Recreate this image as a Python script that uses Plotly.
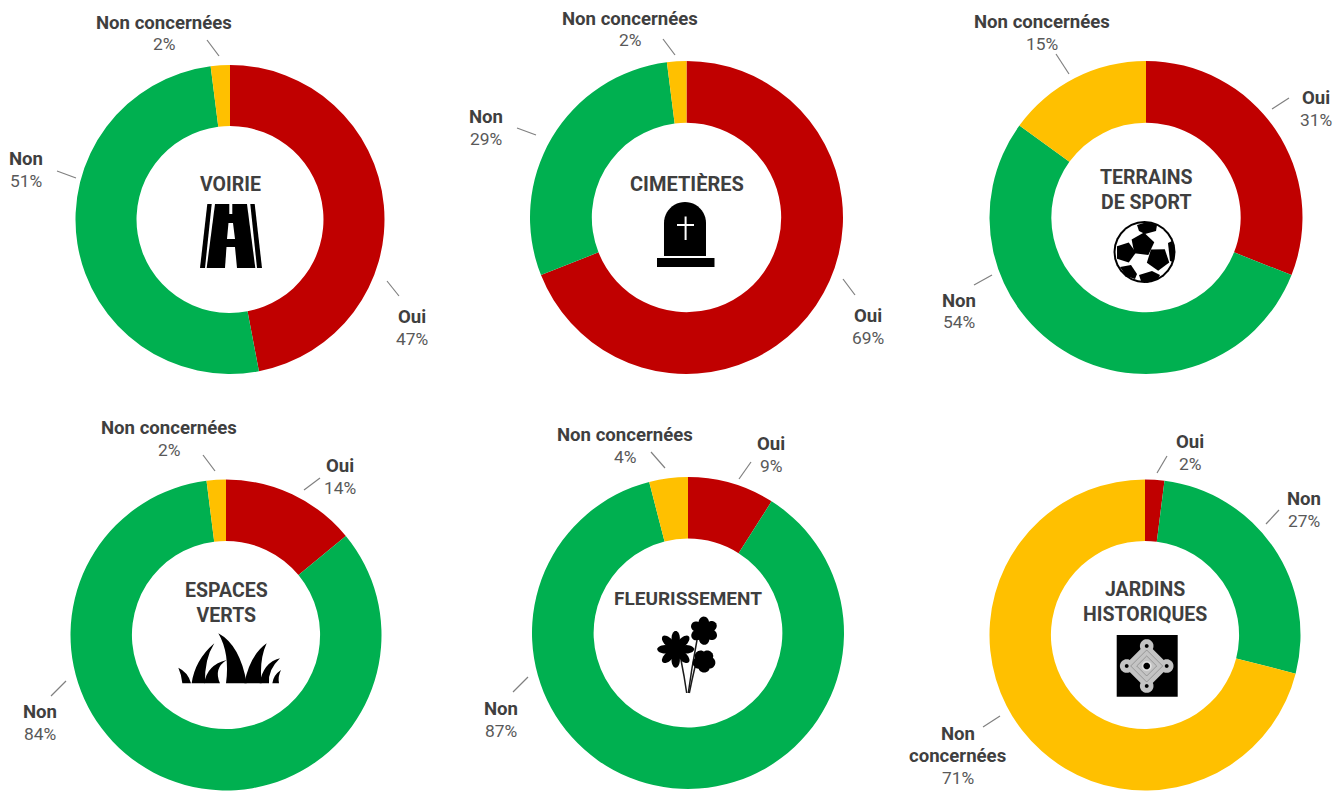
import math
import plotly.graph_objects as go

W, H = 1342, 791

# Survey answers, in percent, for each municipal area
categories = ["Oui", "Non", "Non concernées"]
voirie = [47, 51, 2]
cimetieres = [69, 29, 2]
terrains = [31, 54, 15]
espaces_verts = [14, 84, 2]
fleurissement = [9, 87, 4]
jardins = [2, 27, 71]
titles = ["VOIRIE", "CIMETIÈRES", "TERRAINS<br>DE SPORT",
          "ESPACES<br>VERTS", "FLEURISSEMENT", "JARDINS<br>HISTORIQUES"]
title_sizes = [19.5, 20, 19.5, 19.5, 19, 19.5]
series = [voirie, cimetieres, terrains, espaces_verts, fleurissement, jardins]

RED, GREEN, YELLOW = "#C00000", "#00B050", "#FFC000"
colors = [RED, GREEN, YELLOW]
INK, INK_SOFT, RULE = "#3F3F3F", "#595959", "#808080"
FONT = "Roboto"
LINE_STEP = 21.7

# Doughnut placement in pixels: centre x, centre y, outer radius
placement = [(230, 219.5, 154.5), (686.5, 217.5, 156.5), (1146, 217.5, 156.5),
             (226, 635, 155.5), (688, 633, 156), (1145, 635, 155.5)]
title_y = [184, 184, 190, 603, 598, 602]

# For each doughnut, per category: label centre and the leader line beside it
label_pos = [
    [(412, 328), (26, 170), (164, 33.5)],
    [(868, 327), (486, 128), (630, 29.5)],
    [(1316, 109), (959, 311.5), (1042, 33)],
    [(340, 477), (40, 723), (169, 439)],
    [(771, 455), (501, 720), (625, 446)],
    [(1190, 453), (1304, 510), (958, 756)],
]
leaders = [
    [(387, 281, 399, 296), (57, 171, 76, 178), (207, 40, 219, 56)],
    [(843, 279, 855, 295), (517, 128, 536, 135), (663, 39, 675, 55)],
    [(1272, 109, 1289, 98), (974, 285, 992, 275), (1056, 54, 1069, 74)],
    [(304, 490, 320, 478), (51, 696, 66, 681), (203, 455, 215, 471)],
    [(739, 479, 751, 462), (513, 692, 528, 677), (651, 452, 665, 468)],
    [(1157, 473, 1167, 456), (1266, 524, 1279, 510), (983, 727, 1000, 716)],
]


def px(x):
    return x / W


def py(y):
    return 1 - y / H


def pt(x, y):
    return f"{px(x):.5f},{py(y):.5f}"


def poly(points):
    return "M" + " L".join(pt(x, y) for x, y in points) + " Z"


def fill(path, color="black"):
    return dict(type="path", xref="paper", yref="paper", path=path,
                fillcolor=color, line=dict(width=0), layer="above")


def ellipse_pts(cx, cy, a, b=None, rot=0.0, n=28):
    b = a if b is None else b
    c, s = math.cos(rot), math.sin(rot)
    pts = []
    for i in range(n):
        t = 2 * math.pi * i / n
        x, y = a * math.cos(t), b * math.sin(t)
        pts.append((cx + x * c - y * s, cy + x * s + y * c))
    return pts


def disc(cx, cy, r, color="black"):
    return fill(poly(ellipse_pts(cx, cy, r)), color)


def stroke(pts, color="black", width=1.0):
    path = "M" + " L".join(pt(x, y) for x, y in pts)
    return dict(type="path", xref="paper", yref="paper", path=path,
                line=dict(color=color, width=width), layer="above")


def road():
    return [
        fill(poly([(207.3, 204), (211.7, 204), (205, 268), (200, 268)])),
        fill(poly([(250.3, 204), (254.7, 204), (262, 268), (257, 268)])),
        fill(poly([(215, 204), (247, 204), (255.3, 268), (206.7, 268)])),
        fill(poly([(229.3, 204), (232.3, 204), (232.3, 214), (229.3, 214)]), "white"),
        fill(poly([(228.5, 223), (233, 223), (235, 239), (227, 239)]), "white"),
        fill(poly([(226.5, 247), (235, 247), (237, 268), (225, 268)]), "white"),
    ]


def tomb():
    arch = [(664, 256)]
    for i in range(25):
        t = math.pi * (1 - i / 24)
        arch.append((685 + 21 * math.cos(t), 223 - 21 * math.sin(t)))
    arch.append((706, 256))
    return [
        fill(poly(arch)),
        fill(poly([(657, 258), (714.5, 258), (714.5, 267), (657, 267)])),
        fill(poly([(684.6, 216.5), (686.6, 216.5), (686.6, 240), (684.6, 240)]), "white"),
        fill(poly([(677, 224), (694, 224), (694, 226), (677, 226)]), "white"),
    ]


def pentagon(cx, cy, r, rot):
    return [(cx + r * math.cos(rot + i * 2 * math.pi / 5),
             cy + r * math.sin(rot + i * 2 * math.pi / 5)) for i in range(5)]


def ball():
    cx, cy, r = 1144.5, 252, 31
    out = [disc(cx, cy, r), disc(cx, cy, r - 2, "white")]
    out.append(fill(poly(pentagon(1142.5, 244.5, 12, -1.45))))
    out.append(fill(poly(pentagon(1125.5, 252.5, 10.5, 0.0))))
    out.append(fill(poly(pentagon(1158, 259, 11.8, 0.3))))
    # Patches cut off by the ball's rim
    out.append(fill(poly([(1137, 225), (1147, 222), (1157, 225), (1156, 231), (1145, 234), (1139, 231)])))
    out.append(fill(poly([(1120, 267), (1131, 265), (1137, 274), (1135, 279), (1126, 276)])))
    out.append(fill(poly([(1139, 275), (1152, 271), (1160, 275), (1158, 279), (1147, 283), (1141, 281)])))
    out.append(fill(poly([(1168, 243), (1172, 241), (1175, 252), (1173, 262), (1170, 261)])))
    return out


# Grass blades: left base, left control, tip, right control, right base
GRASS_ORIGIN = (165, 575)
GRASS_BLADES = [
    ((52, 325), (50, 300), (40, 278), (70, 292), (78, 325)),
    ((80, 325), (90, 255), (148, 205), (118, 252), (120, 325)),
    ((118, 325), (125, 270), (185, 255), (145, 280), (165, 325)),
    ((183, 325), (195, 235), (160, 175), (225, 210), (245, 325)),
    ((238, 325), (255, 240), (305, 205), (282, 255), (290, 325)),
    ((284, 325), (295, 262), (345, 250), (308, 285), (312, 325)),
    ((322, 325), (325, 300), (348, 285), (338, 305), (342, 325)),
]


def grass():
    ox, oy = GRASS_ORIGIN
    out = []
    for b in GRASS_BLADES:
        (a, c1, tip, c2, e) = [(ox + x / 3, oy + y / 3) for x, y in b]
        out.append(fill(f"M{pt(*a)} Q{pt(*c1)} {pt(*tip)} Q{pt(*c2)} {pt(*e)} Z"))
    return out


def flower(cx, cy, petals, length, width, offset=0.0):
    out = []
    for i in range(petals):
        t = offset + 2 * math.pi * i / petals
        d = length * 0.62
        out.append(fill(poly(ellipse_pts(cx + d * math.cos(t), cy + d * math.sin(t),
                                         length * 0.45, width, rot=t))))
    out.append(disc(cx, cy, length * 0.5))
    return out


def flowers():
    out = []
    out.append(stroke([(681, 660), (684, 676), (686.7, 693)], "#1A1A1A", 1.5))
    out.append(stroke([(697, 640), (692, 668), (688.3, 693)], "#1A1A1A", 1.5))
    out.append(stroke([(695, 667), (692, 680), (689.3, 693)], "#1A1A1A", 1.5))
    out += flower(675.7, 649.3, 8, 17.2, 4.2, 0.0)
    out += flower(704, 630.7, 6, 13.2, 5.2, 0.5)
    out += flower(704, 661, 5, 10.8, 5.6, 0.3)
    return out


def maze():
    cx, cy = 1146.7, 666
    out = [fill(poly([(1116.7, 635), (1177.7, 635), (1177.7, 696.7), (1116.7, 696.7)]))]
    grey = "#C4C4C4"
    out.append(fill(poly([(cx, cy - 23), (cx + 23, cy), (cx, cy + 23), (cx - 23, cy)]), grey))
    lobes = [(0, -20), (20, 0), (0, 20), (-20, 0)]
    for dx, dy in lobes:
        out.append(disc(cx + dx, cy + dy, 6.8, grey))
    # Concentric paths of the garden plan
    for d in (16, 10):
        ring = [(cx, cy - d), (cx + d, cy), (cx, cy + d), (cx - d, cy), (cx, cy - d)]
        out.append(stroke(ring, "#777777", 0.6))
    for dx, dy in lobes:
        out.append(disc(cx + dx, cy + dy, 1.9, "black"))
    out.append(disc(cx, cy, 5, "#E0E0E0"))
    out.append(disc(cx, cy, 3.3, "black"))
    return out


fig = go.Figure()
shapes, annotations = [], []


def text_line(x, y, text, size, color):
    annotations.append(dict(
        x=px(x), y=py(y), xref="paper", yref="paper", text=text, showarrow=False,
        xanchor="center", yanchor="middle", align="center",
        font=dict(family=FONT, size=size, color=color),
    ))


for idx, (values, (cx, cy, r)) in enumerate(zip(series, placement)):
    fig.add_trace(go.Pie(
        labels=categories, values=values, sort=False, direction="clockwise",
        rotation=0, hole=0.605, textinfo="none", hoverinfo="label+percent",
        marker=dict(colors=colors, line=dict(width=0)), showlegend=False,
        domain=dict(x=[max(0, px(cx - r)), min(1, px(cx + r))],
                    y=[max(0, py(cy + r)), min(1, py(cy - r))]),
    ))
    text_line(cx, title_y[idx], f"<b>{titles[idx]}</b>", title_sizes[idx], INK)
    for cat, v, (lx, ly), seg in zip(categories, values, label_pos[idx], leaders[idx]):
        # The long label on the last doughnut wraps onto two lines
        names = cat.split(" ") if idx == 5 and cat == categories[2] else [cat]
        count = len(names) + 1
        top = ly - (count - 1) / 2 * LINE_STEP
        for k, name in enumerate(names):
            text_line(lx, top + k * LINE_STEP, f"<b>{name}</b>", 18.6, INK)
        text_line(lx, top + len(names) * LINE_STEP, f"{v}%", 17.4, INK_SOFT)
        x0, y0, x1, y1 = seg
        shapes.append(dict(type="line", xref="paper", yref="paper",
                           x0=px(x0), y0=py(y0), x1=px(x1), y1=py(y1),
                           line=dict(color=RULE, width=1.2), layer="above"))

for icon in (road, tomb, ball, grass, flowers, maze):
    shapes += icon()

fig.update_layout(
    width=W, height=H, autosize=False, margin=dict(l=0, r=0, t=0, b=0),
    paper_bgcolor="white", plot_bgcolor="white", showlegend=False,
    shapes=shapes, annotations=annotations, font=dict(family=FONT),
)
fig.write_html("out.html", config=dict(displayModeBar=False))
